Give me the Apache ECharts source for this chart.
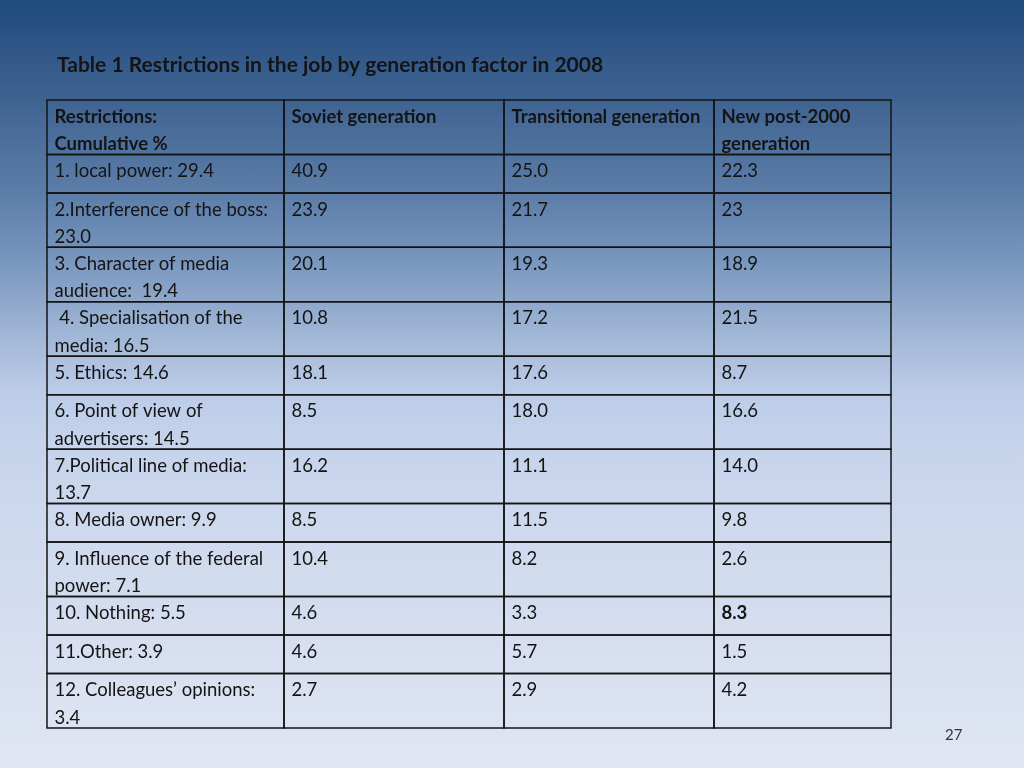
<!DOCTYPE html>
<html>
<head>
<meta charset="utf-8">
<script src="https://cdn.jsdelivr.net/npm/echarts@6/dist/echarts.min.js"></script>
<style>
html,body{margin:0;padding:0;}
#main{width:1024px;height:768px;background:linear-gradient(to bottom,#1f4a7c 0%,#3f6391 12.8%,#5d7ea9 25.5%,#7191ba 32%,#8ba4c8 38.3%,#a5bad9 44.7%,#bccce8 51%,#c5d3eb 57.4%,#cfdaee 70%,#d6def0 83%,#e0e6f2 100%);}
</style>
</head>
<body>
<div id="main"></div>
<script>
// ---- data ----
const titleText = 'Table 1 Restrictions in the job by generation factor in 2008';
const headers = ['Restrictions:\nCumulative %', 'Soviet generation', 'Transitional generation', 'New post-2000\ngeneration'];
const restrictions = [
  '1. local power: 29.4',
  '2.Interference of the boss:\n23.0',
  '3. Character of media\naudience:  19.4',
  ' 4. Specialisation of the\nmedia: 16.5',
  '5. Ethics: 14.6',
  '6. Point of view of\nadvertisers: 14.5',
  '7.Political line of media:\n13.7',
  '8. Media owner: 9.9',
  '9. Influence of the federal\npower: 7.1',
  '10. Nothing: 5.5',
  '11.Other: 3.9',
  '12. Colleagues\u2019 opinions:\n3.4'
];
const soviet = ['40.9','23.9','20.1','10.8','18.1','8.5','16.2','8.5','10.4','4.6','4.6','2.7'];
const transitional = ['25.0','21.7','19.3','17.2','17.6','18.0','11.1','11.5','8.2','3.3','5.7','2.9'];
const newGeneration = ['22.3','23','18.9','21.5','8.7','16.6','14.0','9.8','2.6','8.3','1.5','4.2'];
const boldCells = [[9, 3]]; // [row index, column index] of emphasised values
const pageNumber = '27';

// ---- layout ----
const colEdges = [0, 237, 457, 667, 844];
const oneLineH = 38.6, twoLineH = 54.5;
const allRows = [headers].concat(restrictions.map((r, i) => [r, soviet[i], transitional[i], newGeneration[i]]));
const rowHeights = allRows.map(row => row.some(t => t.indexOf('\n') >= 0) ? twoLineH : oneLineH);
const rowEdges = [0];
rowHeights.forEach(h => rowEdges.push(rowEdges[rowEdges.length - 1] + h));
const totalH = rowEdges[rowEdges.length - 1];

const cells = [];
allRows.forEach((row, r) => row.forEach((txt, c) => {
  const bold = r === 0 || boldCells.some(b => b[0] === r - 1 && b[1] === c);
  cells.push([c, r, txt, bold ? 1 : 0]);
}));

const FONT = 'Lato';
const chart = echarts.init(document.getElementById('main'), null, {renderer: 'canvas'});
chart.setOption({
  backgroundColor: 'transparent',
  animation: false,
  title: {
    text: titleText, left: 57, top: 55, padding: 0,
    textStyle: {fontFamily: FONT, fontWeight: 'bold', fontSize: 21, color: '#141414'}
  },
  graphic: [{
    type: 'text', left: 945, top: 728,
    style: {text: pageNumber, fontFamily: FONT, fontSize: 15, fill: '#333'}
  }],
  grid: {left: 47, top: 100, width: 844, height: 628, containLabel: false},
  xAxis: {type: 'value', min: 0, max: 844, show: false},
  yAxis: {type: 'value', min: 0, max: totalH, inverse: true, show: false},
  series: [{
    type: 'custom',
    data: cells,
    encode: {x: 0, y: 1},
    renderItem: function (params, api) {
      const c = api.value(0), r = api.value(1);
      const d = cells[params.dataIndex];
      const p0 = api.coord([colEdges[c], rowEdges[r]]);
      const p1 = api.coord([colEdges[c + 1], rowEdges[r + 1]]);
      return {
        type: 'group',
        children: [{
          type: 'rect',
          shape: {x: p0[0], y: p0[1], width: p1[0] - p0[0], height: p1[1] - p0[1]},
          style: {fill: 'transparent', stroke: '#141414', lineWidth: 1.5}
        }, {
          type: 'text',
          x: p0[0] + 7.5, y: p0[1] + 3,
          style: {
            text: d[2], fontFamily: FONT, fontSize: 18.5, lineHeight: 27.3,
            fontWeight: d[3] ? 'bold' : 'normal', fill: '#141414',
            align: 'left', verticalAlign: 'top'
          }
        }]
      };
    }
  }]
});
</script>
</body>
</html>
